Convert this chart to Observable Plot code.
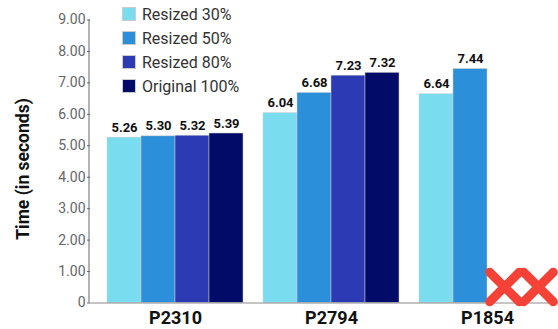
<!DOCTYPE html>
<html>
<head>
<meta charset="utf-8">
<script src="https://cdn.jsdelivr.net/npm/d3@7"></script>
<script src="https://cdn.jsdelivr.net/npm/@observablehq/plot@0.6"></script>
<style>
  html, body { margin: 0; padding: 0; background: #fff; }
  #wrap { position: relative; width: 558px; height: 329px; font-family: Roboto, "Noto Sans", sans-serif; }
  #ylabel { position: absolute; left: 23px; top: 169px; transform: translate(-50%, -50%) rotate(-90deg);
    font-size: 17.5px; font-weight: bold; color: #111; white-space: nowrap; }
  #legend { position: absolute; left: 122px; top: 2px; }
  .item { display: flex; align-items: center; height: 24px; font-size: 16px; color: #333; }
  .sw { width: 14px; height: 14px; margin-right: 6px; box-sizing: border-box; border: 0.5px solid #ccc; }
</style>
</head>
<body>
<div id="wrap">
  <div id="chart"></div>
  <div id="ylabel">Time (in seconds)</div>
  <div id="legend"></div>
</div>
<script>
const groups = ["P2310", "P2794", "P1854"];
const series = ["Resized 30%", "Resized 50%", "Resized 80%", "Original 100%"];
const colors = ["#79DCEF", "#2B8FDA", "#2C3AB3", "#020C68"];
const valuesP2310 = [5.26, 5.30, 5.32, 5.39];
const valuesP2794 = [6.04, 6.68, 7.23, 7.32];
const valuesP1854 = [6.64, 7.44, null, null];
const yTicks = [0, 1, 2, 3, 4, 5, 6, 7, 8, 9];

const allValues = [valuesP2310, valuesP2794, valuesP1854];
const data = [];
const missing = [];
groups.forEach((g, gi) => {
  series.forEach((s, si) => {
    const v = allValues[gi][si];
    if (v == null) missing.push({group: g, series: s});
    else data.push({group: g, series: s, value: v});
  });
});

const plot = Plot.plot({
  width: 558,
  height: 329,
  marginTop: 19.5,
  marginBottom: 26.5,
  marginLeft: 89,
  marginRight: 0,
  style: {fontFamily: "Roboto, 'Noto Sans', sans-serif", background: "transparent"},
  fx: {domain: groups, padding: 0, axis: null},
  x: {domain: series, paddingInner: 0, paddingOuter: 0.275, align: 0.84, axis: null},
  y: {domain: [0, 9], axis: null},
  color: {domain: series, range: colors},
  marks: [
    Plot.barY(data, {fx: "group", x: "series", y: "value", fill: "series", stroke: "#cfcfcf", strokeWidth: 0.5}),
    Plot.ruleY([0], {stroke: "#8a8a8a", strokeWidth: 1}),
    Plot.text(data, {fx: "group", x: "series", y: "value", text: d => d.value.toFixed(2),
      dy: -6, lineAnchor: "bottom", fontWeight: "bold", fontSize: 13, fill: "#111"}),
    Plot.dot(missing, {fx: "group", x: "series", y: 0, dy: -16, symbol: "times", r: 13.5,
      stroke: "#F44336", strokeWidth: 9, strokeLinecap: "round"}),
    Plot.axisY({ticks: yTicks, tickFormat: d => d === 0 ? "0" : d.toFixed(2), tickSize: 3, tickPadding: 2,
      fontSize: 14, fill: "#666", stroke: "#666", label: null}),
    Plot.axisFx({anchor: "bottom", tickSize: 0, tickPadding: 8, dx: 7, fontSize: 18, fontWeight: "bold", fill: "#111", label: null})
  ]
});
document.getElementById("chart").appendChild(plot);

// left axis line using the plot's own scales
const ys = plot.scale("y");
const fxs = plot.scale("fx");
d3.select(plot).append("line")
  .attr("x1", fxs.range[0]).attr("x2", fxs.range[0])
  .attr("y1", ys.range[0]).attr("y2", ys.range[1])
  .attr("stroke", "#666").attr("stroke-width", 1);

const legend = d3.select("#legend");
series.forEach((s, i) => {
  const it = legend.append("div").attr("class", "item");
  it.append("div").attr("class", "sw").style("background", colors[i]);
  it.append("span").text(s);
});
</script>
</body>
</html>
